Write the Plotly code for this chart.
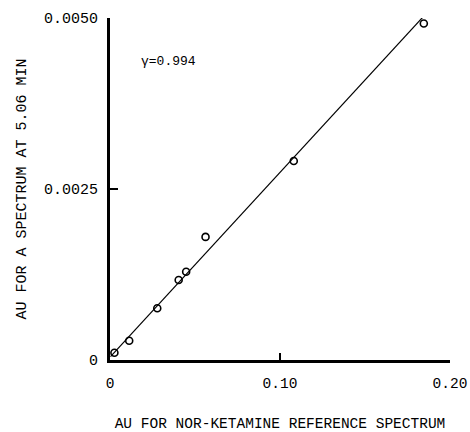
import plotly.graph_objects as go

# Data
x_vals = [0.0026, 0.0113, 0.0278, 0.0404, 0.0448, 0.0562, 0.1081, 0.1846]
y_vals = [0.000107, 0.000282, 0.000756, 0.00117, 0.00129, 0.00180, 0.00291, 0.00492]
fit_x = [0.0003, 0.1869]
fit_y = [0.00005, 0.00509]
x_ticks = [0, 0.10, 0.20]
x_tick_text = ["0", "0.10", "0.20"]
y_ticks = [0, 0.0025, 0.0050]
y_tick_text = ["0", "0.0025", "0.0050"]
annotation_text = "γ=0.994"

FONT = "Liberation Mono"

fig = go.Figure()
fig.add_trace(go.Scatter(x=fit_x, y=fit_y, mode="lines",
                         line=dict(color="black", width=1.2), showlegend=False))
fig.add_trace(go.Scatter(x=x_vals, y=y_vals, mode="markers",
                         marker=dict(symbol="circle-open", size=7, color="black",
                                     line=dict(width=1.6, color="black")),
                         showlegend=False))

fig.add_annotation(x=0.0172, y=0.00436, xref="x", yref="y", text=annotation_text,
                   showarrow=False, xanchor="left",
                   font=dict(family=FONT, size=13, color="black"))

fig.update_xaxes(range=[0, 0.2], tickvals=x_ticks, ticktext=x_tick_text,
                 ticks="inside", ticklen=7, tickwidth=1.5, tickcolor="black",
                 showline=True, linewidth=3, linecolor="black",
                 showgrid=False, zeroline=False, ticklabelstandoff=8,
                 ticklabeloverflow="allow",
                 tickfont=dict(family=FONT, size=14.5, color="black"),
                 title=dict(text="AU FOR NOR-KETAMINE REFERENCE SPECTRUM",
                            font=dict(family=FONT, size=14.5, color="black"),
                            standoff=32))
fig.update_yaxes(range=[0, 0.005], tickvals=y_ticks, ticktext=y_tick_text,
                 ticks="inside", ticklen=8, tickwidth=1.5, tickcolor="black",
                 showline=True, linewidth=3, linecolor="black",
                 showgrid=False, zeroline=False, ticklabelstandoff=6,
                 tickfont=dict(family=FONT, size=15, color="black"),
                 title=dict(text="AU FOR A SPECTRUM AT 5.06 MIN",
                            font=dict(family=FONT, size=15, color="black"),
                            standoff=14))

fig.update_layout(width=470, height=432,
                  margin=dict(l=110, r=20, t=18, b=72, autoexpand=False),
                  plot_bgcolor="white", paper_bgcolor="white")

fig.write_html("out.html")
